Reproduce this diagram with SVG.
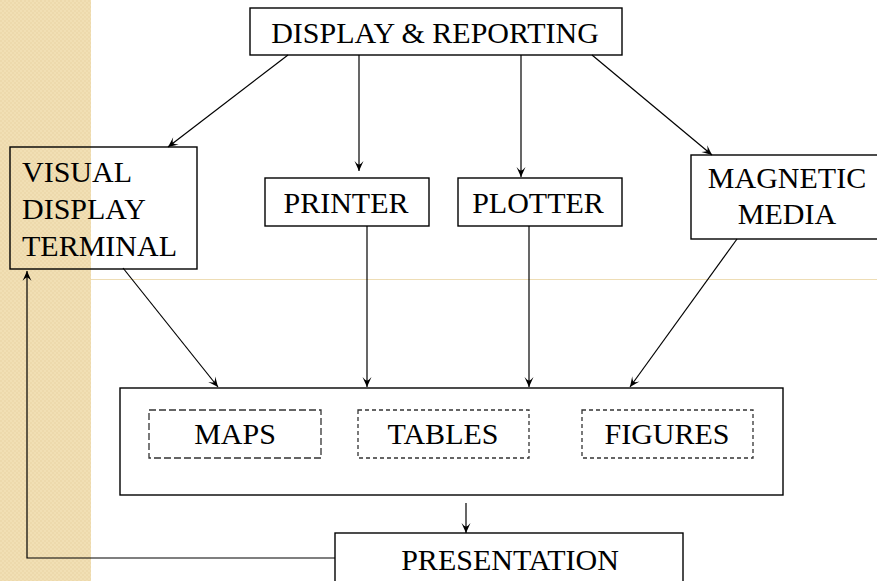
<svg xmlns="http://www.w3.org/2000/svg" width="877" height="581" viewBox="0 0 877 581">
<defs>
<marker id="ah" viewBox="-11 -6 12 12" refX="0" refY="0" markerWidth="12" markerHeight="12" markerUnits="userSpaceOnUse" orient="auto">
<path d="M0,0 L-10,-4.5 Q-6,-1 -6.5,0 Q-6,1 -10,4.5 Z" fill="#000"/>
</marker>
<pattern id="chk" width="4" height="4" patternUnits="userSpaceOnUse">
<rect width="4" height="4" fill="#F1DFB4"/>
<rect width="2" height="2" fill="#EDD9AC"/>
<rect x="2" y="2" width="2" height="2" fill="#EDD9AC"/>
</pattern>
</defs>
<style>
.box{fill:none;stroke:#000;stroke-width:1.4}
.dash{fill:none;stroke:#333;stroke-width:1.3;stroke-dasharray:6,4}
.t{font-family:"Liberation Serif","Times New Roman",serif;font-size:30px;fill:#000}
.c{text-anchor:middle}
.con{fill:none;stroke:#000;stroke-width:1.2}
</style>
<rect x="0" y="0" width="877" height="581" fill="#fff"/>
<rect x="0" y="0" width="91" height="581" fill="url(#chk)"/>
<line x1="91" y1="279.5" x2="877" y2="279.5" stroke="#EEDDB5" stroke-width="1"/>

<g id="display-reporting">
<rect class="box" x="250" y="8" width="372" height="47"/>
<text class="t c" x="435" y="43">DISPLAY &amp; REPORTING</text>
</g>
<g id="vdt">
<rect class="box" x="10" y="147" width="187" height="122"/>
<text class="t" x="22" y="182">VISUAL</text>
<text class="t" x="22" y="219">DISPLAY</text>
<text class="t" x="22" y="256">TERMINAL</text>
</g>
<g id="printer">
<rect class="box" x="265" y="178" width="164" height="48"/>
<text class="t c" x="346" y="213">PRINTER</text>
</g>
<g id="plotter">
<rect class="box" x="458" y="178" width="164" height="48"/>
<text class="t c" x="538" y="213">PLOTTER</text>
</g>
<g id="magnetic-media">
<rect class="box" x="691" y="155" width="190" height="84"/>
<text class="t c" x="787" y="188">MAGNETIC</text>
<text class="t c" x="787" y="224">MEDIA</text>
</g>
<g id="outputs">
<rect class="box" x="120" y="388" width="663" height="107"/>
</g>
<g id="maps">
<rect class="dash" x="149" y="410" width="172" height="48" style="stroke-dasharray:7,3"/>
<text class="t c" x="235" y="444">MAPS</text>
</g>
<g id="tables">
<rect class="dash" x="358" y="410" width="171" height="48" style="stroke-dasharray:4,3"/>
<text class="t c" x="443" y="444">TABLES</text>
</g>
<g id="figures">
<rect class="dash" x="582" y="410" width="171" height="48" style="stroke-dasharray:4,3"/>
<text class="t c" x="667" y="444">FIGURES</text>
</g>
<g id="presentation">
<rect class="box" x="335" y="533" width="348" height="60"/>
<text class="t c" x="510" y="570">PRESENTATION</text>
</g>

<g id="connectors">
<line class="con" x1="288" y1="55" x2="168" y2="147" marker-end="url(#ah)"/>
<line class="con" x1="359" y1="55" x2="359" y2="171" marker-end="url(#ah)"/>
<line class="con" x1="521" y1="55" x2="521" y2="177" marker-end="url(#ah)"/>
<line class="con" x1="592" y1="55" x2="712" y2="155" marker-end="url(#ah)"/>
<line class="con" x1="123" y1="268" x2="218" y2="387" marker-end="url(#ah)"/>
<line class="con" x1="367" y1="226" x2="367" y2="387" marker-end="url(#ah)"/>
<line class="con" x1="529" y1="226" x2="529" y2="387" marker-end="url(#ah)"/>
<line class="con" x1="737" y1="239" x2="630" y2="387" marker-end="url(#ah)"/>
<line class="con" x1="466" y1="503" x2="466" y2="533" marker-end="url(#ah)"/>
<polyline class="con" points="335,558 27,558 27,271" stroke-width="1.5" marker-end="url(#ah)"/>
</g>
</svg>
